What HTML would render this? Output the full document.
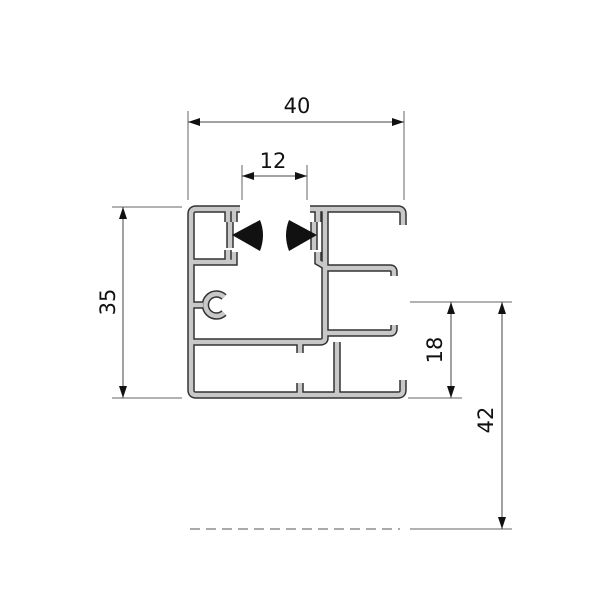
<!DOCTYPE html>
<html><head><meta charset="utf-8"><style>html,body{margin:0;background:#fff}svg{display:block}text{font-family:"DejaVu Sans","Liberation Sans",sans-serif;font-size:21px;fill:#111}</style></head><body>
<svg width="600" height="600" viewBox="0 0 600 600">
<defs>
<marker id="a" markerWidth="12" markerHeight="8" refX="12" refY="4" orient="auto" markerUnits="userSpaceOnUse"><path d="M0,0 L12,4 L0,8 Z" fill="#111"/></marker>
<marker id="b" markerWidth="12" markerHeight="8" refX="0" refY="4" orient="auto" markerUnits="userSpaceOnUse"><path d="M12,0 L0,4 L12,8 Z" fill="#111"/></marker>
</defs>
<g stroke="#666" stroke-width="1" fill="none">
<line x1="188" y1="111" x2="188" y2="200"/><line x1="404" y1="111" x2="404" y2="200"/>
<line x1="242" y1="165" x2="242" y2="200"/><line x1="307" y1="165" x2="307" y2="200"/>
<line x1="112" y1="207" x2="182" y2="207"/><line x1="112" y1="398" x2="182" y2="398"/>
<line x1="410" y1="302" x2="512" y2="302"/><line x1="408" y1="398" x2="462" y2="398"/>
<line x1="410" y1="529" x2="512" y2="529"/>
<line x1="190" y1="529" x2="400" y2="529" stroke-dasharray="10,6" stroke="#555"/>
</g>
<g stroke="#444" stroke-width="1" marker-start="url(#b)" marker-end="url(#a)">
<line x1="188" y1="122" x2="404" y2="122"/>
<line x1="242" y1="176" x2="307" y2="176"/>
<line x1="123" y1="207" x2="123" y2="398"/>
<line x1="451" y1="302" x2="451" y2="398"/>
<line x1="502" y1="302" x2="502" y2="529"/>
</g>
<text x="297" y="113" text-anchor="middle">40</text>
<text x="273" y="168" text-anchor="middle">12</text>
<text transform="translate(115,302) rotate(-90)" text-anchor="middle">35</text>
<text transform="translate(442,350) rotate(-90)" text-anchor="middle">18</text>
<text transform="translate(493,420) rotate(-90)" text-anchor="middle">42</text>
<g fill="none" stroke-linejoin="round" stroke-linecap="round">
<g id="p">
<path d="M240,209 L196,209 Q191,209 191,214 L191,390 Q191,395 196,395 L398,395 Q403,395 403,390 L403,380"/>
<path d="M191,262 L234,262 L234,252"/>
<path d="M228,209 L228,222 M234,209 L234,222 M230,222 L230,248 M228,250 L228,262"/>
<path d="M310,209 L398,209 Q403,209 403,214 L403,225"/>
<path d="M325,209 L325,338 Q325,342 320,342 L191,342"/>
<path d="M318,209 L318,222 M314,222 L314,250 M318,252 L318,262 L325,266"/>
<path d="M325,268 L390,268 Q394,268 394,272 L394,276"/>
<path d="M325,333 L390,333 Q394,333 394,329 L394,325"/>
<path d="M337,342 L337,395"/>
<path d="M300,342 L300,353 M300,395 L300,383"/>
<path d="M191,305 L203,305 M224,297 A11,11 0 1 0 224,313"/>
</g>
</g>
<use href="#p" stroke="#333" stroke-width="7.5" fill="none"/>
<use href="#p" stroke="#c8c8c8" stroke-width="4.5" fill="none"/>
<path d="M232,235 L260,220 Q266,235 260,251 Z" fill="#111"/>
<path d="M317,235 L289,220 Q283,235 289,251 Z" fill="#111"/>
</svg>
</body></html>
